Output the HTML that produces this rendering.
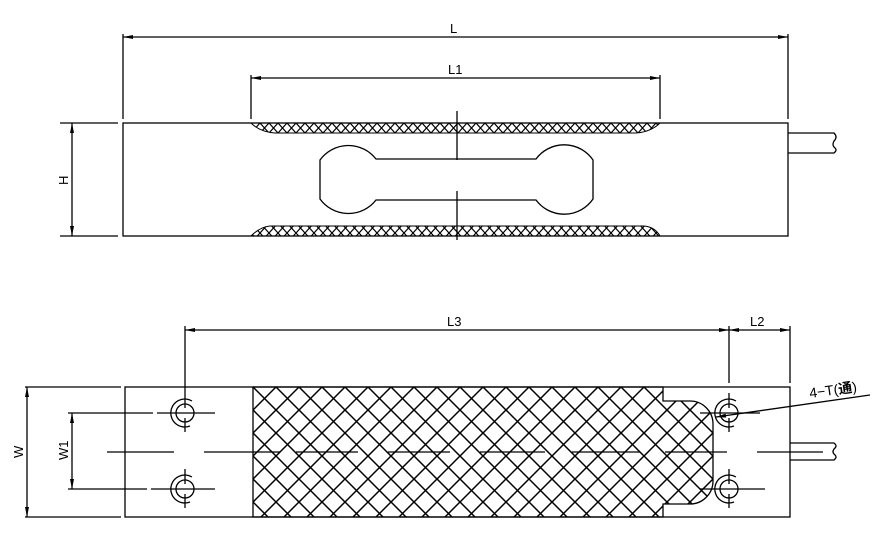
<!DOCTYPE html>
<html><head><style>body{margin:0;background:#fff}svg{display:block}</style></head><body>
<svg width="890" height="542" viewBox="0 0 890 542" xmlns="http://www.w3.org/2000/svg" font-family="Liberation Sans, Noto Sans CJK SC, sans-serif">
<defs>
<pattern id="big" patternUnits="userSpaceOnUse" width="23" height="23" x="253" y="387">
<path d="M0 0L23 23M23 0L0 23" stroke="#000" stroke-width="1.5"/></pattern>
<pattern id="sm" patternUnits="userSpaceOnUse" width="9" height="10" x="251" y="123">
<path d="M0 0L9 10M9 0L0 10" stroke="#000" stroke-width="1.2"/></pattern>
<marker id="a" viewBox="0 0 10 4" refX="10" refY="2" markerWidth="12" markerHeight="4" markerUnits="userSpaceOnUse" orient="auto-start-reverse"><path d="M10 2L0 0V4Z"/></marker>
</defs>
<g stroke="#000" stroke-width="1.3" fill="none">
<rect x="123" y="123" width="665" height="113"/>
<path d="M788 133H834q4 4 0 8q-2 4 0 6q4 3 0 6H788"/>
<line x1="123" y1="34" x2="123" y2="119"/><line x1="788" y1="34" x2="788" y2="119"/>
<line x1="123" y1="37" x2="788" y2="37" marker-start="url(#a)" marker-end="url(#a)"/>
<line x1="251" y1="75" x2="251" y2="119"/><line x1="660" y1="75" x2="660" y2="119"/>
<line x1="251" y1="78" x2="660" y2="78" marker-start="url(#a)" marker-end="url(#a)"/>
<line x1="60" y1="123" x2="118" y2="123"/><line x1="60" y1="236" x2="118" y2="236"/>
<line x1="72" y1="123" x2="72" y2="236" marker-start="url(#a)" marker-end="url(#a)"/>
<path d="M251 123Q260 132 275 133H636Q651 132 660 123Z" fill="url(#sm)" stroke-width="1"/>
<path d="M251 236Q260 227 270 226H644Q655 227 660 236Z" fill="url(#sm)" stroke-width="1"/>
<path d="M376 159H536A35 35 0 0 1 593 160V199A35 35 0 0 1 536 200H376A35 35 0 0 1 320 199V160A35 35 0 0 1 376 159Z"/>
<line x1="457" y1="111" x2="457" y2="160"/><line x1="457" y1="191" x2="457" y2="240"/>
<rect x="125" y="387" width="665" height="130"/>
<path d="M253 387H663V401H690A23 23 0 0 1 713 424V481A23 23 0 0 1 690 504H663V517H253Z" fill="url(#big)"/>
<path d="M790 443H834q4 3 0 6q-2 3 0 5q4 3 0 6H790"/>
<line x1="185" y1="326" x2="185" y2="383"/><line x1="729" y1="326" x2="729" y2="383"/><line x1="790" y1="326" x2="790" y2="383"/>
<line x1="185" y1="330" x2="729" y2="330" marker-start="url(#a)" marker-end="url(#a)"/>
<line x1="729" y1="330" x2="790" y2="330" marker-start="url(#a)" marker-end="url(#a)"/>
<line x1="25" y1="387" x2="121" y2="387"/><line x1="25" y1="517" x2="121" y2="517"/>
<line x1="27" y1="387" x2="27" y2="517" marker-start="url(#a)" marker-end="url(#a)"/>
<line x1="68" y1="413" x2="153" y2="413"/><line x1="68" y1="489" x2="147" y2="489"/>
<line x1="72" y1="413" x2="72" y2="489" marker-start="url(#a)" marker-end="url(#a)"/>
<line x1="107" y1="452" x2="174" y2="452"/><line x1="204" y1="452" x2="253" y2="452"/>
<line x1="253" y1="452" x2="280" y2="452"/><line x1="296" y1="452" x2="358" y2="452"/><line x1="388" y1="452" x2="450" y2="452"/><line x1="480" y1="452" x2="545" y2="452"/><line x1="572" y1="452" x2="640" y2="452"/><line x1="665" y1="452" x2="727" y2="452"/><line x1="757" y1="452" x2="823" y2="452"/>
<g><circle cx="185" cy="413" r="9"/><path d="M192 401A14 14 0 1 0 190 426"/>
<line x1="185" y1="393" x2="185" y2="408"/><line x1="185" y1="418" x2="185" y2="432"/><line x1="157" y1="413" x2="215" y2="413"/></g>
<g><circle cx="185" cy="489" r="9"/><path d="M192 477A14 14 0 1 0 190 502"/>
<line x1="185" y1="469" x2="185" y2="484"/><line x1="185" y1="494" x2="185" y2="508"/><line x1="151" y1="489" x2="215" y2="489"/></g>
<g><circle cx="729" cy="413" r="9"/><path d="M736 401A14 14 0 1 0 734 426"/>
<line x1="729" y1="393" x2="729" y2="408"/><line x1="729" y1="418" x2="729" y2="432"/><line x1="700" y1="413" x2="760" y2="413"/></g>
<g><circle cx="729" cy="489" r="9"/><path d="M736 477A14 14 0 1 0 734 502"/>
<line x1="729" y1="469" x2="729" y2="484"/><line x1="729" y1="494" x2="729" y2="508"/><line x1="700" y1="489" x2="765" y2="489"/></g>
<line x1="185" y1="383" x2="185" y2="393"/>
<line x1="870" y1="395" x2="716" y2="417" marker-end="url(#a)"/>
</g>
<g font-size="13" fill="#000">
<text x="450" y="33">L</text>
<text x="448" y="74">L1</text>
<text x="447" y="326">L3</text>
<text x="750" y="326">L2</text>
<text transform="translate(68,185) rotate(-90)">H</text>
<text transform="translate(23,458) rotate(-90)">W</text>
<text transform="translate(68,460) rotate(-90)">W1</text>
<text transform="translate(810,398) rotate(-8)" font-size="14">4−T(<tspan font-weight="bold">通</tspan>)</text>
</g>
</svg>
</body></html>
